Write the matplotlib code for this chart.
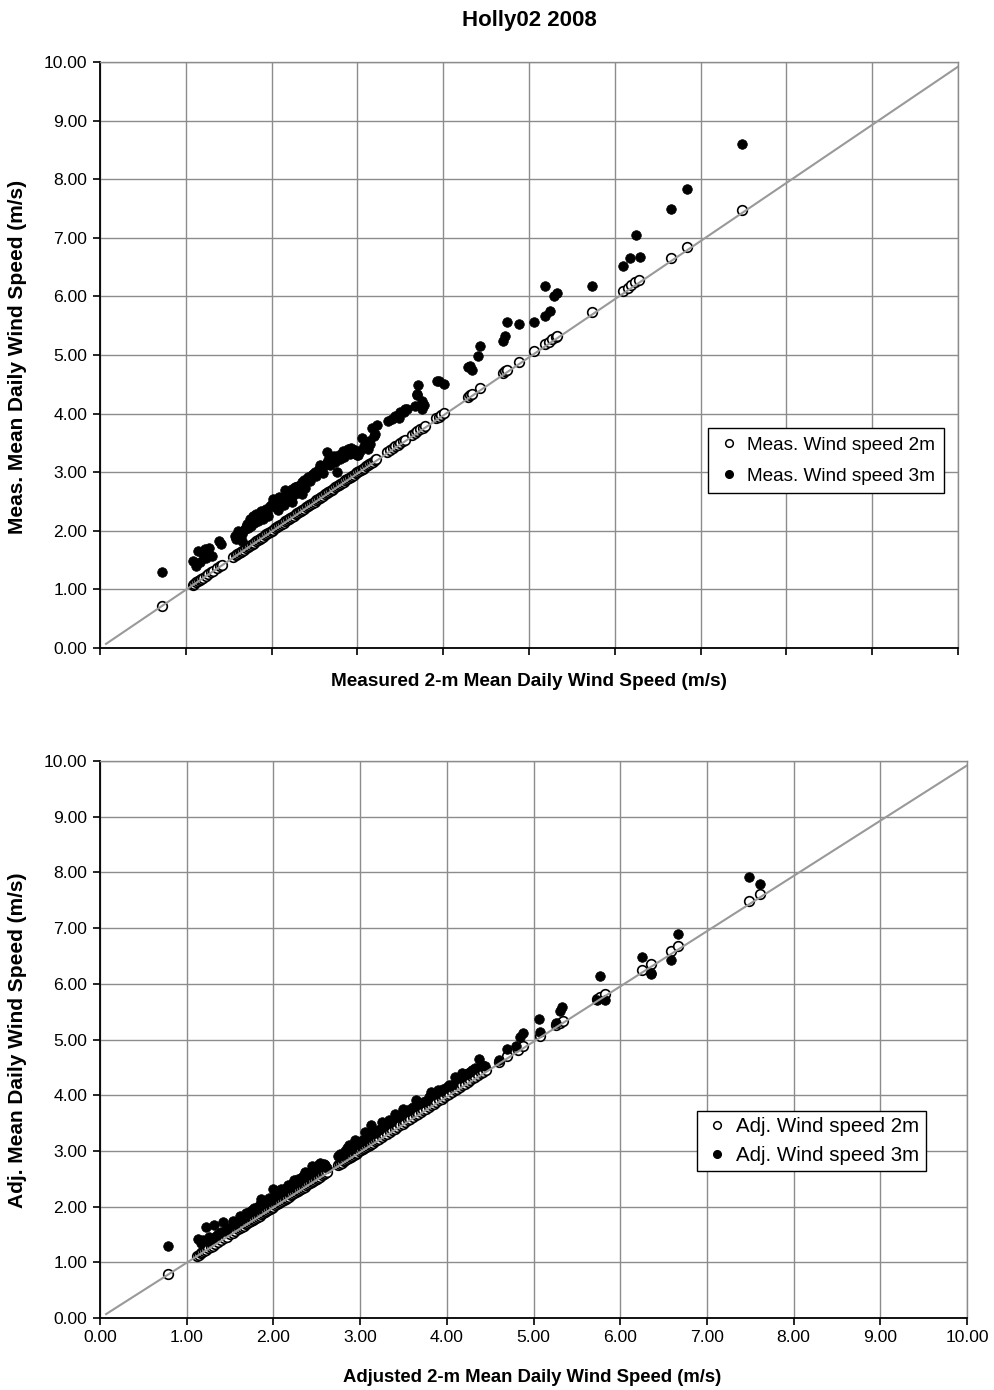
import matplotlib
matplotlib.use('Agg')
import matplotlib.pyplot as plt
from matplotlib.lines import Line2D

plt.rcParams['font.family'] = ['Liberation Sans', 'DejaVu Sans']

# measured 2 m wind speed (x = y for the 2 m series)
meas_2m = [0.72, 1.08, 1.10, 1.12, 1.14, 1.16, 1.18, 1.20, 1.23, 1.26, 1.29, 1.32, 1.36, 1.40, 1.42,
           1.55, 1.58, 1.60, 1.62, 1.64, 1.66, 1.68, 1.70, 1.72, 1.74, 1.76, 1.78, 1.80, 1.82, 1.84,
           1.86, 1.88, 1.90, 1.92, 1.94, 1.96, 1.98, 2.00, 2.02, 2.04, 2.06, 2.08, 2.10, 2.12, 2.14,
           2.16, 2.18, 2.20, 2.22, 2.24, 2.26, 2.28, 2.30, 2.32, 2.34, 2.36, 2.38, 2.40, 2.42, 2.44,
           2.46, 2.48, 2.50, 2.52, 2.54, 2.56, 2.58, 2.60, 2.62, 2.64, 2.66, 2.68, 2.70, 2.72, 2.74,
           2.76, 2.78, 2.80, 2.82, 2.84, 2.86, 2.88, 2.90, 2.92, 2.94, 2.96, 2.98, 3.00, 3.02, 3.04,
           3.06, 3.08, 3.10, 3.12, 3.14, 3.16, 3.18, 3.20, 3.22,
           3.35, 3.38, 3.41, 3.44, 3.47, 3.50, 3.53, 3.55, 3.64, 3.67, 3.70, 3.73, 3.76, 3.79,
           3.92, 3.95, 3.98, 4.01, 4.29, 4.31, 4.34, 4.43, 4.70, 4.72, 4.74, 4.88, 5.06,
           5.19, 5.23, 5.27, 5.31, 5.33, 5.73, 6.10, 6.15, 6.19, 6.24, 6.28, 6.66, 6.84, 7.48]

meas_3m_x = [0.72, 1.08, 1.12, 1.14, 1.16, 1.20, 1.22, 1.24, 1.27, 1.31, 1.39, 1.41,
             1.57, 1.59, 1.61, 1.65, 1.65, 1.68, 1.71, 1.73, 1.75, 1.76, 1.78, 1.80, 1.82, 1.84,
             1.86, 1.88, 1.90, 1.92, 1.94, 1.96, 1.98, 2.02, 2.04, 2.06, 2.08, 2.10, 2.12, 2.14,
             2.16, 2.18, 2.20, 2.21, 2.23, 2.24, 2.24, 2.27, 2.27, 2.29, 2.31, 2.33, 2.35, 2.35,
             2.37, 2.39, 2.41, 2.43, 2.45, 2.47, 2.50, 2.52, 2.55, 2.58, 2.60, 2.62, 2.65, 2.66,
             2.68, 2.70, 2.72, 2.74, 2.76, 2.78, 2.80, 2.82, 2.84, 2.86, 2.89, 2.91, 2.93, 2.95,
             2.97, 2.99, 3.01, 3.05, 3.08, 3.12, 3.13, 3.15, 3.17, 3.19, 3.21, 3.23,
             3.36, 3.40, 3.44, 3.48, 3.50, 3.54, 3.56, 3.58, 3.67, 3.69, 3.70, 3.71, 3.75, 3.75,
             3.78, 3.93, 3.95, 4.01, 4.29, 4.31, 4.33, 4.41, 4.43, 4.70, 4.72, 4.74, 4.88, 5.06,
             5.19, 5.19, 5.24, 5.29, 5.33, 5.73, 6.10, 6.18, 6.25, 6.29, 6.66, 6.84, 7.48,
             1.70, 1.79, 1.87, 1.95, 2.00, 2.09, 2.19, 2.28, 2.38, 2.48, 2.56, 2.64, 2.73, 2.83,
             2.92, 3.03, 3.10]
meas_3m_y = [1.29, 1.49, 1.40, 1.66, 1.47, 1.60, 1.69, 1.54, 1.71, 1.57, 1.83, 1.77,
             1.91, 1.86, 2.00, 1.94, 1.83, 2.02, 2.11, 2.05, 2.20, 2.09, 2.26, 2.14, 2.29, 2.17,
             2.22, 2.34, 2.20, 2.31, 2.38, 2.26, 2.42, 2.54, 2.40, 2.47, 2.36, 2.52, 2.49, 2.44,
             2.69, 2.54, 2.60, 2.66, 2.55, 2.71, 2.49, 2.63, 2.75, 2.68, 2.77, 2.72, 2.84, 2.63,
             2.80, 2.73, 2.88, 2.92, 2.85, 2.95, 3.00, 2.93, 3.05, 3.08, 2.98, 3.12, 3.34, 3.20,
             3.12, 3.22, 3.25, 3.18, 3.01, 3.29, 3.23, 3.30, 3.26, 3.34, 3.40, 3.31, 3.33, 3.36,
             3.38, 3.30, 3.29, 3.59, 3.45, 3.40, 3.53, 3.48, 3.76, 3.62, 3.65, 3.80,
             3.87, 3.90, 3.96, 3.92, 4.02, 4.02, 4.08, 4.07, 4.13, 4.33, 4.32, 4.48, 4.21, 4.07,
             4.15, 4.56, 4.55, 4.51, 4.79, 4.81, 4.75, 4.98, 5.16, 5.24, 5.32, 5.57, 5.53, 5.57,
             5.66, 6.18, 5.75, 6.00, 6.06, 6.18, 6.52, 6.65, 7.05, 6.68, 7.49, 7.84, 8.60,
             2.06, 2.18, 2.26, 2.30, 2.46, 2.57, 2.62, 2.74, 2.86, 2.97, 3.12, 3.15, 3.28, 3.37,
             3.42, 3.36, 3.50]

# adjusted 2 m wind speed
adj_2m = [0.79, 1.12, 1.14, 1.16, 1.18, 1.20, 1.22, 1.25, 1.28, 1.30, 1.33, 1.36, 1.40, 1.43, 1.46,
          1.50, 1.53, 1.56, 1.59, 1.62, 1.64, 1.66, 1.68, 1.70, 1.72, 1.74, 1.76, 1.78, 1.80, 1.82,
          1.84, 1.86, 1.88, 1.90, 1.92, 1.94, 1.96, 1.98, 2.00, 2.02, 2.04, 2.06, 2.08, 2.10, 2.12,
          2.14, 2.16, 2.18, 2.20, 2.22, 2.24, 2.26, 2.28, 2.30, 2.32, 2.34, 2.36, 2.38, 2.40, 2.42,
          2.44, 2.46, 2.48, 2.50, 2.52, 2.54, 2.56, 2.58, 2.60, 2.62,
          2.75, 2.77, 2.79, 2.81, 2.83, 2.85, 2.87, 2.89, 2.91, 2.93, 2.95, 2.97, 2.99, 3.01, 3.03,
          3.05, 3.07, 3.09, 3.11, 3.13, 3.15, 3.17, 3.19, 3.22, 3.25, 3.28, 3.31, 3.34, 3.37, 3.40,
          3.43, 3.46, 3.49, 3.52, 3.55, 3.58, 3.61, 3.64, 3.67, 3.70, 3.73, 3.76, 3.79, 3.82, 3.85,
          3.88, 3.91, 3.94, 3.97, 4.00, 4.03, 4.06, 4.09, 4.12, 4.15, 4.18, 4.21, 4.24, 4.27, 4.30,
          4.33, 4.36, 4.39, 4.42, 4.45, 4.60, 4.70, 4.82, 4.88, 5.07, 5.26, 5.30, 5.34,
          5.73, 5.77, 5.82, 6.25, 6.35, 6.59, 6.67, 7.48, 7.61]

adj_3m_x = [0.79, 1.13, 1.16, 1.19, 1.22, 1.24, 1.26, 1.29, 1.32, 1.34, 1.36, 1.39, 1.42, 1.45,
            1.48, 1.53, 1.56, 1.59, 1.61, 1.63, 1.66, 1.68, 1.70, 1.72, 1.75, 1.78, 1.80, 1.82,
            1.84, 1.86, 1.88, 1.90, 1.92, 1.95, 1.97, 2.00, 2.02, 2.05, 2.07, 2.09, 2.11, 2.14,
            2.17, 2.19, 2.21, 2.24, 2.26, 2.28, 2.30, 2.32, 2.34, 2.36, 2.38, 2.40, 2.42, 2.45,
            2.47, 2.49, 2.52, 2.54, 2.56, 2.58, 2.60, 2.62,
            2.75, 2.77, 2.79, 2.81, 2.83, 2.85, 2.87, 2.89, 2.91, 2.94, 2.96, 2.98, 3.01, 3.03,
            3.06, 3.08, 3.10, 3.12, 3.15, 3.17, 3.20, 3.23, 3.25, 3.28, 3.31, 3.33, 3.36, 3.40,
            3.43, 3.46, 3.49, 3.52, 3.55, 3.58, 3.61, 3.65, 3.68, 3.72, 3.76, 3.79, 3.82, 3.86,
            3.90, 3.93, 3.96, 4.00, 4.03, 4.06, 4.10, 4.12, 4.15, 4.18, 4.21, 4.24, 4.27, 4.29,
            4.33, 4.37, 4.39, 4.41, 4.44,
            4.60, 4.70, 4.80, 4.85, 4.88, 5.06, 5.07, 5.26, 5.30, 5.33, 5.73, 5.77, 5.82, 6.25,
            6.35, 6.36, 6.59, 6.67, 7.48, 7.61]
adj_3m_y = [1.29, 1.42, 1.35, 1.40, 1.63, 1.38, 1.45, 1.42, 1.67, 1.48, 1.51, 1.55, 1.72, 1.58,
            1.62, 1.75, 1.68, 1.74, 1.84, 1.78, 1.82, 1.89, 1.86, 1.90, 1.93, 1.98, 1.95, 2.00,
            2.05, 2.13, 2.06, 2.10, 2.08, 2.16, 2.12, 2.32, 2.20, 2.22, 2.25, 2.31, 2.28, 2.33,
            2.39, 2.36, 2.40, 2.48, 2.44, 2.50, 2.46, 2.52, 2.55, 2.63, 2.56, 2.60, 2.62, 2.72,
            2.66, 2.70, 2.74, 2.78, 2.72, 2.76, 2.74, 2.70,
            2.90, 2.95, 2.93, 2.97, 3.00, 3.05, 3.10, 3.04, 3.08, 3.19, 3.12, 3.15, 3.18, 3.20,
            3.34, 3.25, 3.28, 3.46, 3.37, 3.33, 3.36, 3.40, 3.52, 3.45, 3.48, 3.55, 3.52, 3.67,
            3.60, 3.62, 3.76, 3.70, 3.72, 3.75, 3.78, 3.91, 3.85, 3.88, 3.90, 3.96, 4.06, 4.02,
            4.10, 4.08, 4.12, 4.14, 4.19, 4.18, 4.33, 4.31, 4.30, 4.40, 4.36, 4.40, 4.42, 4.46,
            4.48, 4.65, 4.52, 4.55, 4.52,
            4.63, 4.83, 4.88, 5.05, 5.11, 5.37, 5.13, 5.30, 5.52, 5.58, 5.71, 6.14, 5.71, 6.49,
            6.18, 6.20, 6.42, 6.90, 7.92, 7.79]

ticks = [0, 1, 2, 3, 4, 5, 6, 7, 8, 9, 10]
tick_labels = ['%.2f' % t for t in ticks]
grid_col = '#8c8c8c'

fig = plt.figure(figsize=(9.95, 13.9), dpi=100)
ax1 = fig.add_axes([100/995, 1-648/1390, 858/995, 586/1390])
ax2 = fig.add_axes([100/995, 1-1318/1390, 867/995, 557/1390])


def style_axes(ax, show_xlabels):
    ax.set_xlim(0, 10)
    ax.set_ylim(0, 10)
    ax.set_xticks(ticks)
    ax.set_yticks(ticks)
    ax.set_yticklabels(tick_labels)
    if show_xlabels:
        ax.set_xticklabels(tick_labels)
    else:
        ax.set_xticklabels([])
    ax.grid(True, color=grid_col, linewidth=1.0)
    ax.set_axisbelow(True)
    for s in ['top', 'right']:
        ax.spines[s].set_color(grid_col)
        ax.spines[s].set_linewidth(1.0)
    for s in ['left', 'bottom']:
        ax.spines[s].set_color('black')
        ax.spines[s].set_linewidth(1.3)
    ax.tick_params(direction='out', length=5, width=1.2, labelsize=12.6, pad=4)


# diagonal 1:1 line
line_x = [0.07, 10]
line_y = [0.07, 9.92]

ax1.scatter(meas_2m, meas_2m, s=48, facecolor='white', edgecolor='black', linewidth=1.2, zorder=3)
ax1.scatter(meas_3m_x, meas_3m_y, s=48, facecolor='black', edgecolor='black', linewidth=0.5, zorder=4)
ax1.plot(line_x, line_y, color='#999999', linewidth=1.5, zorder=5)
style_axes(ax1, False)

ax2.scatter(adj_2m, adj_2m, s=48, facecolor='white', edgecolor='black', linewidth=1.2, zorder=3)
ax2.scatter(adj_3m_x, adj_3m_y, s=48, facecolor='black', edgecolor='black', linewidth=0.5, zorder=4)
ax2.plot(line_x, line_y, color='#999999', linewidth=1.5, zorder=5)
style_axes(ax2, True)


def add_legend(ax, labels, anchor, fs, spacing, pad):
    handles = [Line2D([], [], linestyle='none', marker='o', markersize=5.5, markerfacecolor='white',
                      markeredgecolor='black', markeredgewidth=1.1),
               Line2D([], [], linestyle='none', marker='o', markersize=5.5, markerfacecolor='black',
                      markeredgecolor='black')]
    leg = ax.legend(handles, labels, loc='upper left', bbox_to_anchor=anchor, fontsize=fs,
                    frameon=True, fancybox=False, framealpha=1, edgecolor='black',
                    handlelength=1.3, handletextpad=0.3, borderpad=pad, labelspacing=spacing,
                    borderaxespad=0)
    leg.get_frame().set_linewidth(1.0)
    leg.set_zorder(10)


add_legend(ax1, ['Meas. Wind speed 2m', 'Meas. Wind speed 3m'], (0.709, 0.375), 13.7, 0.7, 0.45)
add_legend(ax2, ['Adj. Wind speed 2m', 'Adj. Wind speed 3m'], (0.689, 0.372), 14.8, 0.5, 0.3)

fig.text(0.532, 0.9856, 'Holly02 2008', ha='center', va='center', fontsize=16, fontweight='bold')
fig.text(0.532, 1-681/1390, 'Measured 2-m Mean Daily Wind Speed (m/s)', ha='center', va='center',
         fontsize=13.7, fontweight='bold')
fig.text(0.535, 1-1377/1390, 'Adjusted 2-m Mean Daily Wind Speed (m/s)', ha='center', va='center',
         fontsize=13.3, fontweight='bold')
fig.text(18/995, 1-357/1390, 'Meas. Mean Daily Wind Speed (m/s)', ha='center', va='center',
         rotation=90, fontsize=15, fontweight='bold')
fig.text(18/995, 1-1040/1390, 'Adj. Mean Daily Wind Speed (m/s)', ha='center', va='center',
         rotation=90, fontsize=15, fontweight='bold')

fig.savefig('out.png', dpi=100)
